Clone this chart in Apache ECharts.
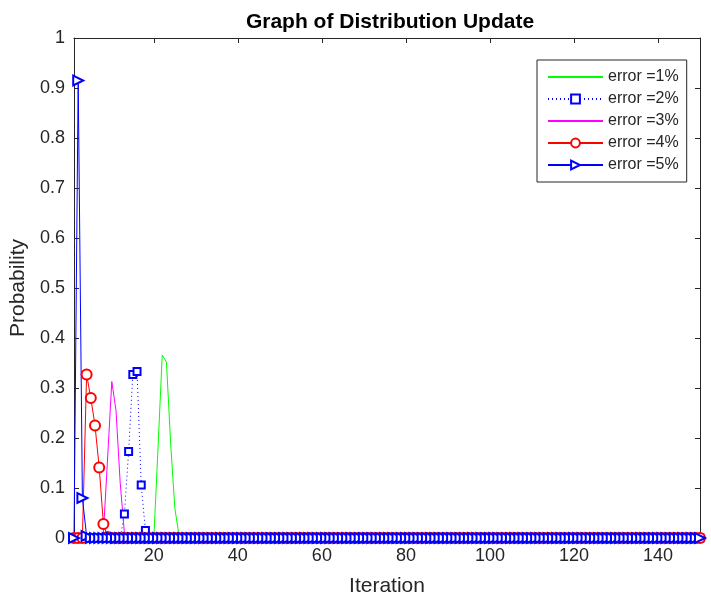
<!DOCTYPE html>
<html>
<head>
<meta charset="utf-8">
<title>Graph of Distribution Update</title>
<script src="https://cdn.jsdelivr.net/npm/echarts@6/dist/echarts.min.js"></script>
<style>
    html,body{margin:0;padding:0;background:#fff;}
    #chart{width:711px;height:602px;}
</style>
</head>
<body>
<div id="chart"></div>
<script>
    // probability per iteration (iteration 1..150)
    var err1 = [
        0,0,0,0,0,0,0,0,0,0,
        0,0,0,0,0,0,0,0,0,0,
        0.18,0.366,0.352,0.19,0.06,0.005,0,0,0,0,
        0,0,0,0,0,0,0,0,0,0,
        0,0,0,0,0,0,0,0,0,0,
        0,0,0,0,0,0,0,0,0,0,
        0,0,0,0,0,0,0,0,0,0,
        0,0,0,0,0,0,0,0,0,0,
        0,0,0,0,0,0,0,0,0,0,
        0,0,0,0,0,0,0,0,0,0,
        0,0,0,0,0,0,0,0,0,0,
        0,0,0,0,0,0,0,0,0,0,
        0,0,0,0,0,0,0,0,0,0,
        0,0,0,0,0,0,0,0,0,0,
        0,0,0,0,0,0,0,0,0,0
    ];
    var err2 = [
        0,0,0,0,0,0,0,0,0,0,
        0,0,0.048,0.173,0.327,0.333,0.106,0.015,0,0,
        0,0,0,0,0,0,0,0,0,0,
        0,0,0,0,0,0,0,0,0,0,
        0,0,0,0,0,0,0,0,0,0,
        0,0,0,0,0,0,0,0,0,0,
        0,0,0,0,0,0,0,0,0,0,
        0,0,0,0,0,0,0,0,0,0,
        0,0,0,0,0,0,0,0,0,0,
        0,0,0,0,0,0,0,0,0,0,
        0,0,0,0,0,0,0,0,0,0,
        0,0,0,0,0,0,0,0,0,0,
        0,0,0,0,0,0,0,0,0,0,
        0,0,0,0,0,0,0,0,0,0,
        0,0,0,0,0,0,0,0,0,0
    ];
    var err3 = [
        0,0,0,0,0,0,0,0.01,0.16,0.313,
        0.255,0.11,0.01,0,0,0,0,0,0,0,
        0,0,0,0,0,0,0,0,0,0,
        0,0,0,0,0,0,0,0,0,0,
        0,0,0,0,0,0,0,0,0,0,
        0,0,0,0,0,0,0,0,0,0,
        0,0,0,0,0,0,0,0,0,0,
        0,0,0,0,0,0,0,0,0,0,
        0,0,0,0,0,0,0,0,0,0,
        0,0,0,0,0,0,0,0,0,0,
        0,0,0,0,0,0,0,0,0,0,
        0,0,0,0,0,0,0,0,0,0,
        0,0,0,0,0,0,0,0,0,0,
        0,0,0,0,0,0,0,0,0,0,
        0,0,0,0,0,0,0,0,0,0
    ];
    var err4 = [
        0,0,0,0.327,0.28,0.225,0.141,0.028,0.002,0,
        0,0,0,0,0,0,0,0,0,0,
        0,0,0,0,0,0,0,0,0,0,
        0,0,0,0,0,0,0,0,0,0,
        0,0,0,0,0,0,0,0,0,0,
        0,0,0,0,0,0,0,0,0,0,
        0,0,0,0,0,0,0,0,0,0,
        0,0,0,0,0,0,0,0,0,0,
        0,0,0,0,0,0,0,0,0,0,
        0,0,0,0,0,0,0,0,0,0,
        0,0,0,0,0,0,0,0,0,0,
        0,0,0,0,0,0,0,0,0,0,
        0,0,0,0,0,0,0,0,0,0,
        0,0,0,0,0,0,0,0,0,0,
        0,0,0,0,0,0,0,0,0,0
    ];
    var err5 = [
        0,0.915,0.08,0.004,0,0,0,0,0,0,
        0,0,0,0,0,0,0,0,0,0,
        0,0,0,0,0,0,0,0,0,0,
        0,0,0,0,0,0,0,0,0,0,
        0,0,0,0,0,0,0,0,0,0,
        0,0,0,0,0,0,0,0,0,0,
        0,0,0,0,0,0,0,0,0,0,
        0,0,0,0,0,0,0,0,0,0,
        0,0,0,0,0,0,0,0,0,0,
        0,0,0,0,0,0,0,0,0,0,
        0,0,0,0,0,0,0,0,0,0,
        0,0,0,0,0,0,0,0,0,0,
        0,0,0,0,0,0,0,0,0,0,
        0,0,0,0,0,0,0,0,0,0,
        0,0,0,0,0,0,0,0,0,0
    ];
    var seriesNames = ['error =1%', 'error =2%', 'error =3%', 'error =4%', 'error =5%'];
    var xTicks = [20, 40, 60, 80, 100, 120, 140];

    var font = "'Liberation Sans', Arial, sans-serif";
    var axisColor = '#262626';

    function pairs(arr){
        return arr.map(function(v, i){ return [i + 1, v]; });
    }

    var myChart = echarts.init(document.getElementById('chart'));

    var tickStyle = { show: true, inside: true, length: 5, lineStyle: { color: axisColor } };

    var option = {
        animation: false,
        backgroundColor: '#fff',
        textStyle: { fontFamily: font },
        title: {
            text: 'Graph of Distribution Update',
            left: 385,
            textAlign: 'center',
            top: 7,
            textStyle: { fontFamily: font, fontSize: 21, fontWeight: 'bold', color: '#000' }
        },
        legend: {
            orient: 'vertical',
            left: 537,
            top: 60,
            data: [
                { name: seriesNames[0], itemStyle: { opacity: 0 } },
                { name: seriesNames[1] },
                { name: seriesNames[2], itemStyle: { opacity: 0 } },
                { name: seriesNames[3] },
                { name: seriesNames[4] }
            ],
            itemWidth: 55,
            itemHeight: 11,
            itemGap: 6,
            padding: [9, 8, 9, 10],
            borderColor: '#262626',
            borderWidth: 1,
            backgroundColor: '#fff',
            textStyle: { fontFamily: font, fontSize: 16, color: '#262626' }
        },
        grid: { left: 74, right: 11, top: 38, bottom: 61, containLabel: false },
        xAxis: [
            {
                type: 'value',
                min: 1,
                max: 150,
                name: 'Iteration',
                nameLocation: 'middle',
                nameGap: 38,
                nameTextStyle: { fontFamily: font, fontSize: 21, color: axisColor },
                axisLine: { show: true, onZero: false, lineStyle: { color: axisColor } },
                axisTick: Object.assign({ customValues: xTicks }, tickStyle),
                axisLabel: { customValues: xTicks, fontFamily: font, fontSize: 18, color: axisColor, margin: 9 },
                splitLine: { show: false }
            },
            {
                type: 'value',
                position: 'top',
                min: 1,
                max: 150,
                axisLine: { show: true, onZero: false, lineStyle: { color: axisColor } },
                axisTick: Object.assign({ customValues: xTicks }, tickStyle),
                axisLabel: { show: false },
                splitLine: { show: false }
            }
        ],
        yAxis: [
            {
                type: 'value',
                min: 0,
                max: 1,
                interval: 0.1,
                name: 'Probability',
                nameLocation: 'middle',
                nameGap: 43,
                nameTextStyle: { fontFamily: font, fontSize: 21, color: axisColor },
                axisLine: { show: true, onZero: false, lineStyle: { color: axisColor } },
                axisTick: tickStyle,
                axisLabel: { fontFamily: font, fontSize: 18, color: axisColor, margin: 9 },
                splitLine: { show: false }
            },
            {
                type: 'value',
                position: 'right',
                min: 0,
                max: 1,
                interval: 0.1,
                axisLine: { show: true, onZero: false, lineStyle: { color: axisColor } },
                axisTick: tickStyle,
                axisLabel: { show: false },
                splitLine: { show: false }
            }
        ],
        series: [
            {
                name: seriesNames[0],
                type: 'line',
                data: pairs(err1),
                symbol: 'none',
                clip: false,
                lineStyle: { color: '#00ff00', width: 1 },
                itemStyle: { color: '#00ff00' }
            },
            {
                name: seriesNames[1],
                type: 'line',
                data: pairs(err2),
                symbol: 'emptyRect',
                symbolSize: 7,
                showAllSymbol: true,
                clip: false,
                lineStyle: { color: '#0000ff', width: 1, type: [1, 3] },
                itemStyle: { color: '#0000ff', borderColor: '#3333ff', borderWidth: 1 }
            },
            {
                name: seriesNames[2],
                type: 'line',
                data: pairs(err3),
                symbol: 'none',
                clip: false,
                lineStyle: { color: '#ff00ff', width: 1 },
                itemStyle: { color: '#ff00ff' }
            },
            {
                name: seriesNames[3],
                type: 'line',
                data: pairs(err4),
                symbol: 'emptyCircle',
                symbolSize: 10,
                showAllSymbol: true,
                clip: false,
                lineStyle: { color: '#ff0000', width: 1 },
                itemStyle: { color: '#ff0000', borderColor: '#ff3333', borderWidth: 1 }
            },
            {
                name: seriesNames[4],
                type: 'line',
                data: pairs(err5),
                symbol: 'emptyTriangle',
                symbolSize: 10,
                symbolRotate: -90,
                showAllSymbol: true,
                clip: false,
                lineStyle: { color: '#0000ff', width: 1 },
                itemStyle: { color: '#0000ff', borderColor: '#3333ff', borderWidth: 1 }
            }
        ]
    };

    myChart.setOption(option);
</script>
</body>
</html>
